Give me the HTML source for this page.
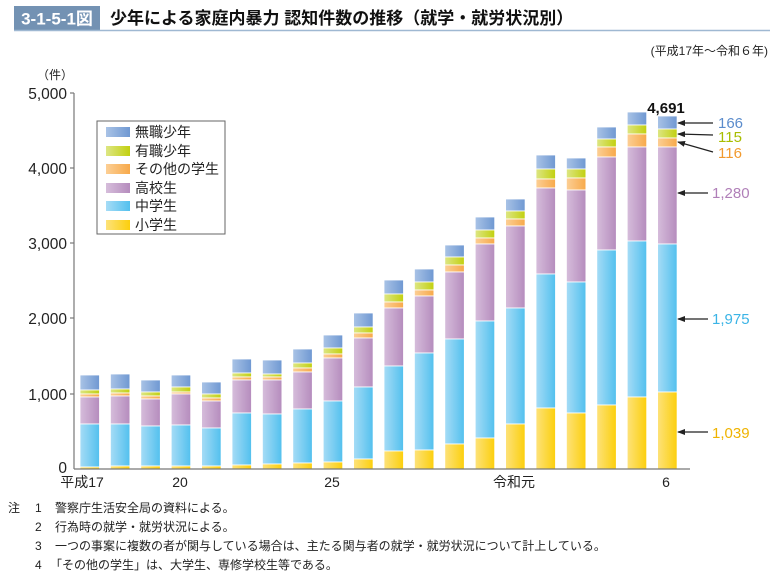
<!DOCTYPE html>
<html><head><meta charset="utf-8">
<style>
body{margin:0;background:#fff;width:775px;height:572px;overflow:hidden;font-family:"Liberation Sans","Noto Sans CJK JP",sans-serif;}
svg{display:block}
</style></head>
<body>
<svg id="s" width="775" height="572" viewBox="0 0 775 572" xmlns="http://www.w3.org/2000/svg" font-family="Liberation Sans, Noto Sans CJK JP, sans-serif">
<defs>
<linearGradient id="g0" x1="0" x2="1"><stop offset="0" stop-color="#a9c3e6"/><stop offset="1" stop-color="#6f98d2"/></linearGradient>
<linearGradient id="g1" x1="0" x2="1"><stop offset="0" stop-color="#dde684"/><stop offset="1" stop-color="#c2d00f"/></linearGradient>
<linearGradient id="g2" x1="0" x2="1"><stop offset="0" stop-color="#fccf95"/><stop offset="1" stop-color="#f7a94a"/></linearGradient>
<linearGradient id="g3" x1="0" x2="1"><stop offset="0" stop-color="#d6bddb"/><stop offset="1" stop-color="#b58cbd"/></linearGradient>
<linearGradient id="g4" x1="0" x2="1"><stop offset="0" stop-color="#a6dcf6"/><stop offset="1" stop-color="#52c0ee"/></linearGradient>
<linearGradient id="g5" x1="0" x2="1"><stop offset="0" stop-color="#fde27a"/><stop offset="1" stop-color="#fccf0c"/></linearGradient>
<marker id="ar" markerWidth="8" markerHeight="6" refX="7" refY="3" orient="auto" markerUnits="userSpaceOnUse"><path d="M8,3 L0,0 L0,6 Z" fill="#222"/></marker>
</defs>
<rect x="14" y="6" width="86" height="24" fill="#7392b3"/>
<text x="57" y="24.5" text-anchor="middle" font-size="17" font-weight="bold" fill="#fff">3-1-5-1図</text>
<line x1="14" y1="30.5" x2="770" y2="30.5" stroke="#9fb8d2" stroke-width="1.5"/>
<text x="110" y="24" font-size="17" font-weight="bold" fill="#111">少年による家庭内暴力 認知件数の推移（就学・就労状況別）</text>
<text x="768" y="55" text-anchor="end" font-size="12" fill="#222">(平成17年～令和６年)</text>
<text x="37" y="79" font-size="12" fill="#222">（件）</text>
<g id="bars"></g>
<line x1="74" y1="93" x2="74" y2="469" stroke="#777" stroke-width="1.2"/>
<line x1="74" y1="469" x2="690" y2="469" stroke="#777" stroke-width="1.2"/>
<g stroke="#777" stroke-width="1.2">
<line x1="70" y1="93" x2="74" y2="93"/><line x1="70" y1="168" x2="74" y2="168"/><line x1="70" y1="243" x2="74" y2="243"/><line x1="70" y1="318" x2="74" y2="318"/><line x1="70" y1="394" x2="74" y2="394"/>
</g>
<g font-size="15.5" fill="#222" text-anchor="end">
<text x="67" y="99">5,000</text><text x="67" y="174">4,000</text><text x="67" y="249">3,000</text><text x="67" y="324">2,000</text><text x="67" y="400">1,000</text><text x="67" y="473">0</text>
</g>
<g font-size="14" fill="#222" text-anchor="middle">
<text x="82" y="487">平成17</text><text x="180" y="487">20</text><text x="332" y="487">25</text><text x="514" y="487">令和元</text><text x="666" y="487">6</text>
</g>
<rect x="97" y="121" width="128" height="113" fill="#fff" stroke="#666" stroke-width="1"/>
<g font-size="14" fill="#222">
<rect x="106" y="127" width="24" height="10" fill="url(#g0)"/><text x="135" y="137">無職少年</text>
<rect x="106" y="146" width="24" height="10" fill="url(#g1)"/><text x="135" y="156">有職少年</text>
<rect x="106" y="164" width="24" height="10" fill="url(#g2)"/><text x="135" y="174">その他の学生</text>
<rect x="106" y="183" width="24" height="10" fill="url(#g3)"/><text x="135" y="193">高校生</text>
<rect x="106" y="201" width="24" height="10" fill="url(#g4)"/><text x="135" y="211">中学生</text>
<rect x="106" y="220" width="24" height="10" fill="url(#g5)"/><text x="135" y="230">小学生</text>
</g>
<text x="666" y="113" text-anchor="middle" font-size="15" font-weight="bold" fill="#111">4,691</text>
<g stroke="#222" stroke-width="1.2" marker-end="url(#ar)">
<line x1="713" y1="123" x2="678" y2="123"/>
<line x1="713" y1="135" x2="678" y2="134"/>
<line x1="713" y1="152" x2="678" y2="142"/>
<line x1="708" y1="193" x2="678" y2="193"/>
<line x1="708" y1="319" x2="678" y2="319"/>
<line x1="708" y1="432" x2="678" y2="432"/>
</g>
<g font-size="15">
<text x="718" y="128" fill="#5b8ccc">166</text>
<text x="718" y="142" fill="#a8bd00">115</text>
<text x="718" y="158" fill="#f29a2e">116</text>
<text x="712" y="198" fill="#b07fb8">1,280</text>
<text x="712" y="324" fill="#3bb4e6">1,975</text>
<text x="712" y="438" fill="#efb300">1,039</text>
</g>
<g font-size="12" fill="#222">
<text x="8" y="512">注</text>
<text x="35" y="512">1</text><text x="55" y="512">警察庁生活安全局の資料による。</text>
<text x="35" y="531">2</text><text x="55" y="531">行為時の就学・就労状況による。</text>
<text x="35" y="550">3</text><text x="55" y="550">一つの事案に複数の者が関与している場合は、主たる関与者の就学・就労状況について計上している。</text>
<text x="35" y="569">4</text><text x="50" y="569">「その他の学生」は、大学生、専修学校生等である。</text>
</g>
</svg>
<script>
var d=[
[375,390,394,397,424,467],[374,389,393,396,424,466],[380,392,396,399,426,466],[375,387,392,394,425,466],[382,394,398,401,428,466],
[359,373,377,380,413,465],[360,374,377,380,414,464],[349,363,368,372,409,463],[335,348,354,358,401,462],[313,327,333,338,387,459],
[280,294,302,308,366,451],[269,282,290,296,353,450],[245,257,265,272,339,444],[217,230,238,244,321,438],[199,211,219,226,308,424],
[155,169,179,188,274,408],[158,169,178,190,282,413],[127,139,147,157,250,405],[112,125,134,147,241,397],[116,129,138,147,244,392]];
var g=document.getElementById('bars'),ns='http://www.w3.org/2000/svg';
d.forEach(function(b,i){var x=80+i*30.4;var ys=b.concat([469]);
for(var k=0;k<6;k++){var r=document.createElementNS(ns,'rect');r.setAttribute('x',x);r.setAttribute('y',ys[k]);r.setAttribute('width',19.5);r.setAttribute('height',Math.max(0,ys[k+1]-ys[k]));r.setAttribute('fill','url(#g'+k+')');r.setAttribute('stroke','#fff');r.setAttribute('stroke-width','0.8');g.appendChild(r);}});
</script>
</body></html>
